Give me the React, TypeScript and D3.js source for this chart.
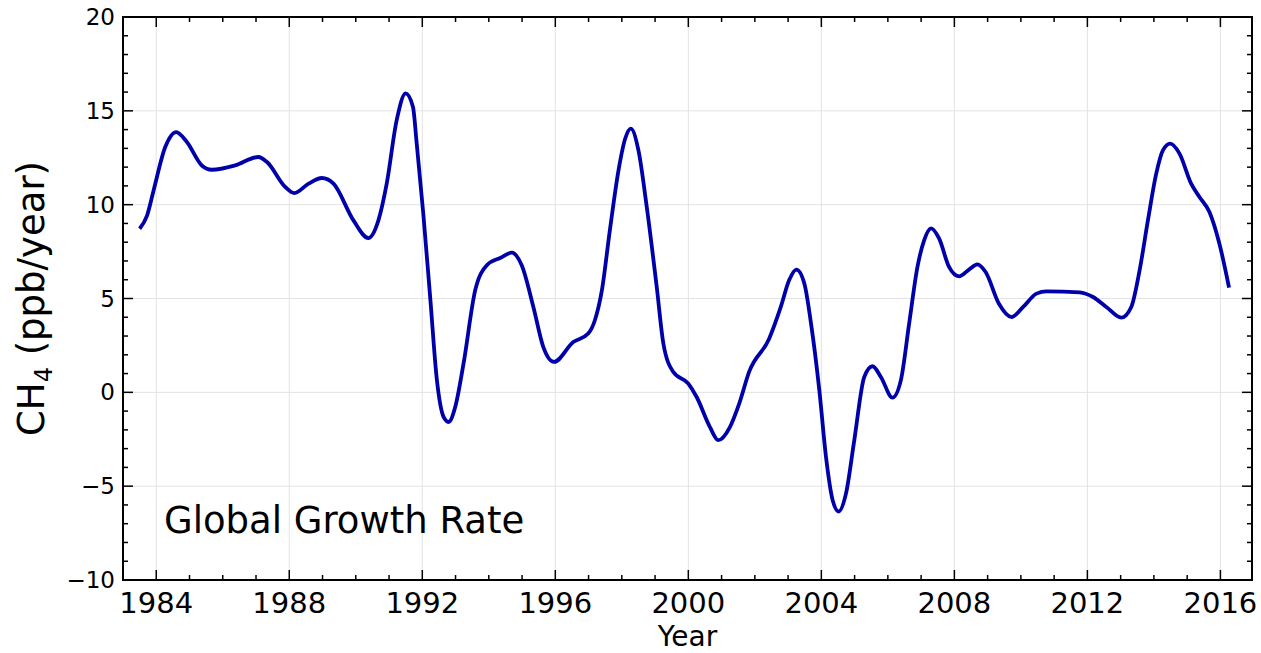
// Global CH4 growth rate line plot with d3.

import * as d3 from "d3";

const years = [
  1983.5, 1983.72, 1983.92, 1984.27, 1984.6, 1984.92, 1985.37, 1985.67, 1986.37,
  1987.07, 1987.33, 1987.88, 1988.15, 1988.58, 1988.98, 1989.33, 1989.93, 1990.38,
  1990.68, 1990.93, 1991.23, 1991.5, 1991.72, 1991.83, 1992.03, 1992.24, 1992.44,
  1992.64, 1992.79, 1992.99, 1993.24, 1993.59, 1993.94, 1994.34, 1994.69, 1994.99,
  1995.34, 1995.64, 1995.96, 1996.54, 1996.99, 1997.19, 1997.4, 1997.64, 1997.9,
  1998.1, 1998.27, 1998.5, 1998.75, 1999.05, 1999.25, 1999.55, 2000.0, 2000.25,
  2000.65, 2000.9, 2001.25, 2001.53, 2001.83, 2002.43, 2002.78, 2003.03, 2003.25,
  2003.49, 2003.69, 2003.94, 2004.14, 2004.34, 2004.52, 2004.74, 2004.99, 2005.29,
  2005.54, 2005.79, 2006.14, 2006.39, 2006.64, 2006.89, 2007.09, 2007.3, 2007.54,
  2007.84, 2008.14, 2008.44, 2008.69, 2008.94, 2009.34, 2009.72, 2010.07, 2010.47,
  2010.77, 2011.77, 2012.17, 2012.57, 2013.02, 2013.32, 2013.57, 2013.82, 2014.07,
  2014.27, 2014.49, 2014.77, 2015.12, 2015.37, 2015.67, 2015.97, 2016.26,
];

// growth rate, ppb/year
const rates = [
  8.72, 9.4, 10.76, 13.07, 13.87, 13.34, 12.09, 11.86, 12.09,
  12.54, 12.27, 10.94, 10.62, 11.12, 11.42, 11.12, 9.16, 8.22,
  9.16, 11.12, 14.5, 15.93, 15.2, 13.3, 9.52, 5.0, 0.64,
  -1.31, -1.58, -0.78, 1.53, 5.43, 6.77, 7.16, 7.44, 6.77,
  4.55, 2.41, 1.62, 2.68, 3.13, 3.84, 5.43, 8.63, 11.83,
  13.51, 14.05, 12.89, 9.87, 5.61, 2.59, 1.08, 0.46, -0.25,
  -1.85, -2.55, -1.85, -0.6, 1.1, 2.86, 4.55, 5.97, 6.54,
  5.79, 3.66, 0.1, -3.45, -5.75, -6.35, -5.4, -2.56, 0.82,
  1.39, 0.82, -0.28, 0.64, 3.66, 6.68, 8.1, 8.74, 8.2,
  6.68, 6.18, 6.54, 6.82, 6.41, 4.72, 4.01, 4.55, 5.26,
  5.38, 5.33, 5.08, 4.55, 3.98, 4.55, 6.5, 9.16, 11.65,
  12.89, 13.25, 12.72, 11.12, 10.41, 9.61, 7.92, 5.58,
];

const xMajor = [1984, 1988, 1992, 1996, 2000, 2004, 2008, 2012, 2016];
const xMinor = d3.range(1983, 2017);
const yMajor = [-10, -5, 0, 5, 10, 15, 20];
const yMinor = d3.range(-10, 21);

const font = "DejaVu Sans, sans-serif";

export default function App() {
  const width = 1261;
  const height = 653;
  const [top, right, bottom, left] = [17, 9, 73, 123];

  const scaleX = d3.scaleLinear([1983, 2016.95], [left, width - right]);
  const scaleY = d3.scaleLinear([-10, 20], [height - bottom, top]);
  const x0 = left;
  const x1 = width - right;
  const y0 = height - bottom;
  const y1 = top;

  const line = d3
    .line<number>((d, i) => scaleX(years[i]), (d) => scaleY(d))
    .curve(d3.curveMonotoneX);

  const fmt = (v: number) => (v < 0 ? "\u2212" + Math.abs(v) : String(v));

  return (
    <svg
      width={width}
      height={height}
      style={{ position: "absolute", left: 0, top: 0, background: "white" }}
      fontFamily={font}
    >
      <title>Global CH4 growth rate</title>
      {/* grid */}
      <g stroke="#e3e3e3" strokeWidth={1}>
        {xMajor.map((t) => (
          <line key={"gx" + t} x1={scaleX(t)} x2={scaleX(t)} y1={y0} y2={y1} />
        ))}
        {yMajor.map((t) => (
          <line key={"gy" + t} x1={x0} x2={x1} y1={scaleY(t)} y2={scaleY(t)} />
        ))}
      </g>

      <path fill="none" stroke="#0000aa" strokeWidth={3.8} strokeLinejoin="round" d={line(rates) || ""} />

      {/* ticks, inward on all four sides */}
      <g stroke="black" strokeWidth={1.5}>
        {xMinor.map((t) => {
          const len = xMajor.includes(t) ? 10 : 5;
          const px = scaleX(t);
          return (
            <g key={"tx" + t}>
              <line x1={px} x2={px} y1={y0} y2={y0 - len} />
              <line x1={px} x2={px} y1={y1} y2={y1 + len} />
            </g>
          );
        })}
        {yMinor.map((t) => {
          const len = yMajor.includes(t) ? 10 : 5;
          const py = scaleY(t);
          return (
            <g key={"ty" + t}>
              <line x1={x0} x2={x0 + len} y1={py} y2={py} />
              <line x1={x1} x2={x1 - len} y1={py} y2={py} />
            </g>
          );
        })}
      </g>
      <rect x={x0} y={y1} width={x1 - x0} height={y0 - y1} fill="none" stroke="black" strokeWidth={2} />

      {/* tick labels */}
      <g fontSize={29} textAnchor="middle">
        {xMajor.map((t) => (
          <text key={"lx" + t} x={scaleX(t)} y={y0 + 33}>
            {t}
          </text>
        ))}
      </g>
      <g fontSize={23} textAnchor="end">
        {yMajor.map((t) => (
          <text key={"ly" + t} x={x0 - 8} y={scaleY(t) + 8}>
            {fmt(t)}
          </text>
        ))}
      </g>

      <text x={(x0 + x1) / 2} y={646} fontSize={28} textAnchor="middle">
        Year
      </text>
      <text transform={`translate(44, ${(y0 + y1) / 2}) rotate(-90)`} fontSize={37} textAnchor="middle">
        CH<tspan fontSize={24} dy={8}>4</tspan>
        <tspan dy={-8}> (ppb/year)</tspan>
      </text>
      <text x={164} y={533} fontSize={37}>
        Global Growth Rate
      </text>
    </svg>
  );
}
